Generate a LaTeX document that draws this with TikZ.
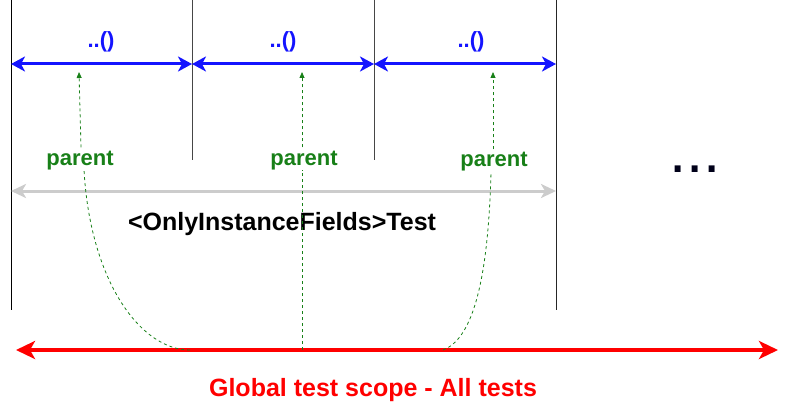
\documentclass[tikz,border=0pt]{standalone}
\usepackage{fontspec}
\setmainfont{Liberation Sans}
\usetikzlibrary{arrows.meta}
\definecolor{myblue}{RGB}{20,20,255}
\definecolor{mygreen}{RGB}{24,128,24}
\definecolor{mygray}{RGB}{204,204,204}
\definecolor{myred}{RGB}{255,0,0}
\definecolor{divgray}{RGB}{70,70,70}
\begin{document}
\begin{tikzpicture}[x=1pt,y=-1pt,
  divider/.style={line width=1pt},
  methodarrow/.style={line width=3pt, myblue, {Stealth[length=14pt,width=15pt,inset=4pt]}-{Stealth[length=14pt,width=15pt,inset=4pt]}},
  classarrow/.style={line width=3pt, mygray, {Stealth[length=15pt,width=14pt,inset=4pt]}-{Stealth[length=15pt,width=14pt,inset=4pt]}},
  globalarrow/.style={line width=4pt, myred, {Stealth[length=19pt,width=18pt,inset=5pt]}-{Stealth[length=19pt,width=18pt,inset=5pt]}},
  parentlink/.style={mygreen, line width=0.8pt, dash pattern=on 3pt off 3pt},
  parenttip/.style={parentlink, -{Triangle[length=6pt,width=5pt]}},
  methodlabel/.style={anchor=base, text=myblue, font=\bfseries\fontsize{22}{26}\selectfont, inner sep=0pt},
  parentlabel/.style={anchor=base, text=mygreen, font=\bfseries\fontsize{22}{26}\selectfont, inner sep=3pt},
  biglabel/.style={anchor=base, font=\bfseries\fontsize{25}{30}\selectfont, inner sep=0pt}
]
\useasboundingbox (0,0) rectangle (791,406);

% dividers
\coordinate (v0t) at (11,0);   \coordinate (v0b) at (11,310);
\coordinate (v1t) at (192,0);  \coordinate (v1b) at (192,160);
\coordinate (v2t) at (374,0);  \coordinate (v2b) at (374,160);
\coordinate (v3t) at (556,0);  \coordinate (v3b) at (556,310);
\draw[divider, black] (v0t) -- (v0b);
\draw[divider, divgray] (v1t) -- (v1b);
\draw[divider, divgray] (v2t) -- (v2b);
\draw[divider, black!85] (v3t) -- (v3b);

% method scopes
\coordinate (b0) at (11,64);
\coordinate (b1) at (192,64);
\coordinate (b2) at (374,64);
\coordinate (b3) at (556,64);
\draw[methodarrow] (b0) -- (b1);
\draw[methodarrow] (b1) -- (b2);
\draw[methodarrow] (b2) -- (b3);
\node[methodlabel] (m1) at (101,48) {..()};
\node[methodlabel] (m2) at (283,48) {..()};
\node[methodlabel] (m3) at (471,48) {..()};

% class scope
\coordinate (cl) at (11,191);
\coordinate (cr) at (556,191);
\draw[classarrow] (cl) -- (cr);
\node[biglabel] (cls) at (282,230) {<OnlyInstanceFields>Test};

% global scope
\coordinate (gl) at (16,350);
\coordinate (gr) at (778,350);
\draw[globalarrow] (gl) -- (gr);
\node[biglabel, text=myred] (glob) at (373,396) {Global test scope - All tests};

% dots
\node[anchor=base, font=\fontsize{62}{70}\selectfont, inner sep=0pt, text=black!90!blue] (more) at (695,172) {...};

% parent links
\node[parentlabel] (p1) at (80,165) {parent};
\node[parentlabel] (p2) at (304,165) {parent};
\node[parentlabel] (p3) at (494,167) {parent};
\coordinate (t1) at (79,72);
\coordinate (t2) at (302,72);
\coordinate (t3) at (493,72);
\coordinate (r1) at (190,350);
\coordinate (r2) at (302,350);
\coordinate (r3) at (443,350);

\draw[parenttip] ([xshift=1pt]p1.north) -- (t1);
\draw[parenttip] ([xshift=-2pt]p2.north) -- (t2);
\draw[parenttip] ([xshift=-1pt]p3.north) -- (t3);

\draw[parentlink] (r1) .. controls (140,350) and (90,280) .. ([xshift=4pt,yshift=3pt]p1.south);
\draw[parentlink] (r2) -- ([xshift=-2pt,yshift=3pt]p2.south);
\draw[parentlink] (r3) .. controls (470,340) and (488,290) .. ([xshift=-3pt,yshift=3pt]p3.south);
\end{tikzpicture}
\end{document}
